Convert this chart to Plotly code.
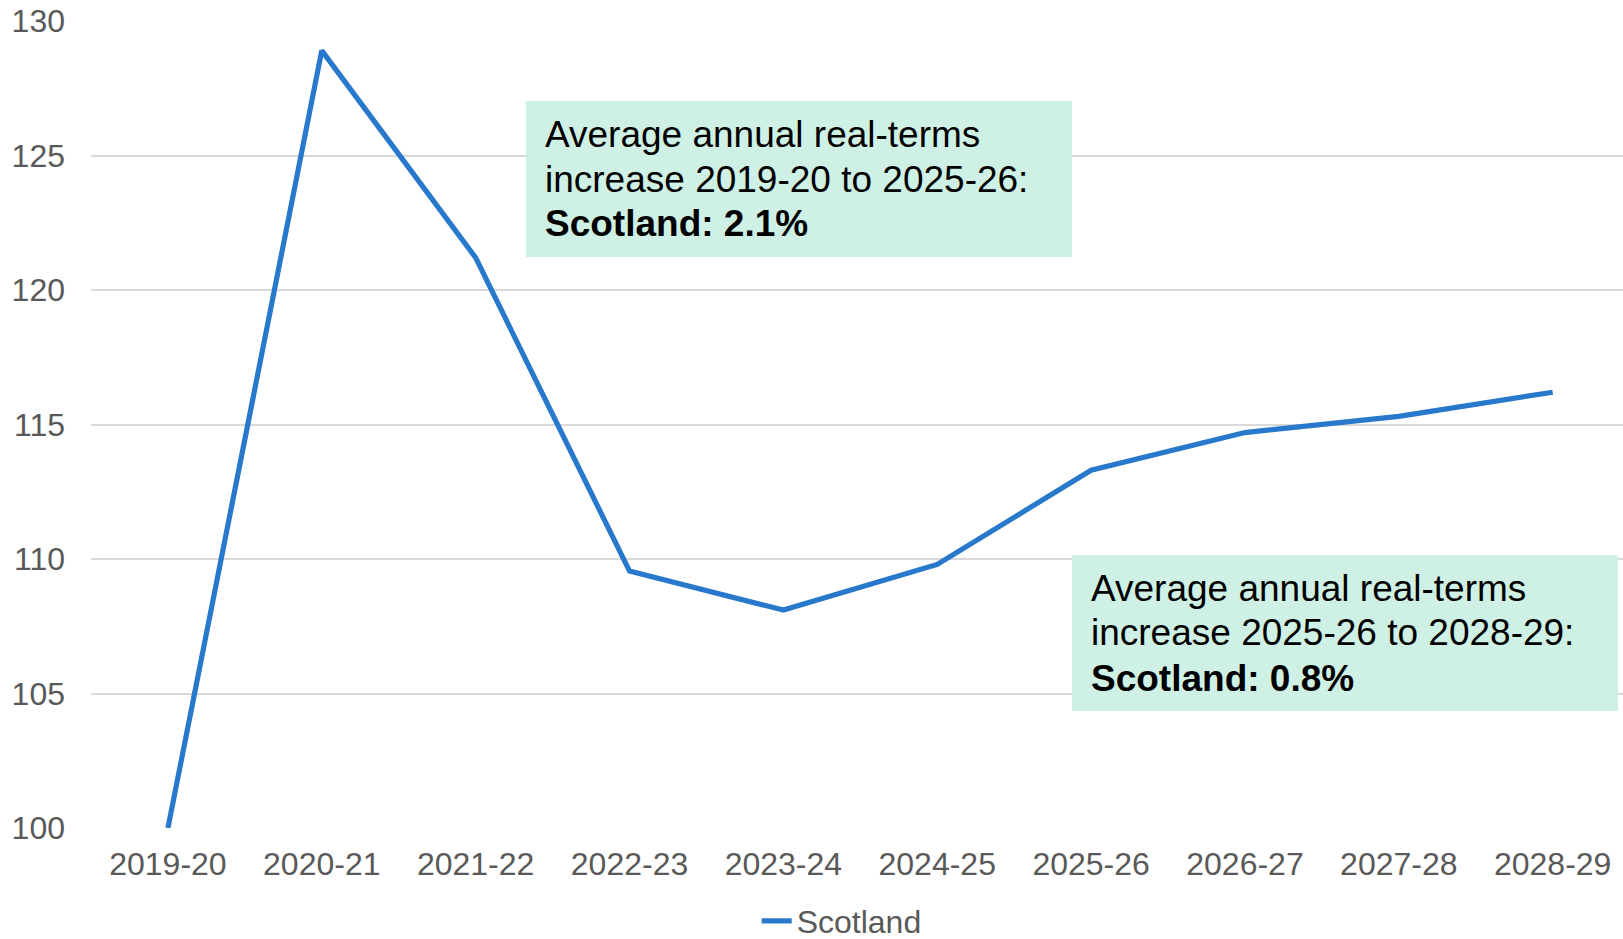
import plotly.graph_objects as go

years = ["2019-20", "2020-21", "2021-22", "2022-23", "2023-24",
         "2024-25", "2025-26", "2026-27", "2027-28", "2028-29"]
scotland = [100.0, 128.9, 121.2, 109.55, 108.1, 109.8, 113.3, 114.7, 115.3, 116.2]

y_ticks = [100, 105, 110, 115, 120, 125, 130]

box1_lines = ["Average annual real-terms", "increase 2019-20 to 2025-26:", "<b>Scotland: 2.1%</b>"]
box2_lines = ["Average annual real-terms", "increase 2025-26 to 2028-29:", "<b>Scotland: 0.8%</b>"]

FONT = "Liberation Sans, Arial, sans-serif"
W, H = 1623, 939
ML, MR, MT, MB = 91, 0, 21, 111

fig = go.Figure()
fig.add_trace(go.Scatter(
    x=years, y=scotland, mode="lines", name="Scotland",
    line=dict(color="#2878CC", width=5.2),
))

pw = W - ML - MR
ph = H - MT - MB


def px_x(p):
    return (p - ML) / pw


def px_y(p):
    return (H - MB - p) / ph


BOX_COLOR = "#CFF0E4"
boxes = [
    dict(x0=526, x1=1072, y0=101, y1=257, text_x=545, lines=box1_lines, ys=[134.6, 179.1, 223.6]),
    dict(x0=1072, x1=1618, y0=555, y1=711, text_x=1091, lines=box2_lines, ys=[588, 632.5, 678]),
]
for b in boxes:
    fig.add_shape(type="rect", xref="paper", yref="paper",
                  x0=px_x(b["x0"]), x1=px_x(b["x1"]),
                  y0=px_y(b["y1"]), y1=px_y(b["y0"]),
                  fillcolor=BOX_COLOR, line=dict(width=0), layer="above")
    for txt, yy in zip(b["lines"], b["ys"]):
        fig.add_annotation(xref="paper", yref="paper", x=px_x(b["text_x"]), y=px_y(yy),
                           xanchor="left", yanchor="middle", text=txt, showarrow=False,
                           borderpad=0, borderwidth=0,
                           font=dict(family=FONT, size=37, color="#000000"))

fig.update_layout(
    width=W, height=H,
    margin=dict(l=ML, r=MR, t=MT, b=MB, pad=0, autoexpand=False),
    paper_bgcolor="white", plot_bgcolor="white",
    font=dict(family=FONT, size=32, color="#595959"),
    showlegend=True,
    legend=dict(orientation="h", x=0.49, xanchor="center", y=px_y(921), yanchor="middle",
                font=dict(family=FONT, size=32, color="#595959"), bgcolor="rgba(0,0,0,0)"),
    xaxis=dict(type="category", range=[-0.5, 9.457], showgrid=False, zeroline=False,
               showline=False, ticks="", ticklabelstandoff=14, automargin=False,
               tickfont=dict(family=FONT, size=32, color="#595959"), fixedrange=True),
    yaxis=dict(range=[100, 130], tickvals=y_ticks, showgrid=True, gridcolor="#D9D9D9",
               gridwidth=1.8, zeroline=False, showline=False, ticks="",
               ticklabelstandoff=25, automargin=False,
               tickfont=dict(family=FONT, size=32, color="#595959"), fixedrange=True),
)

fig.write_html("out.html")
